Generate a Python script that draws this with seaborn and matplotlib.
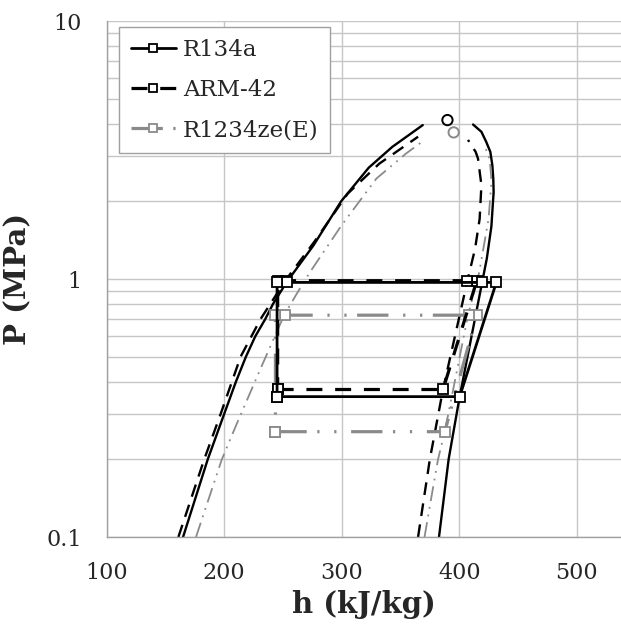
import matplotlib
matplotlib.use("Agg")
import matplotlib.pyplot as plt
import matplotlib.ticker as mticker
import seaborn as sns
import numpy as np

# ---------------- data ----------------
# saturation domes: liquid and vapour branches, h in kJ/kg, P in MPa
r134a_liq_h = [165, 186, 200, 210, 218.5, 226.5, 235, 241.5, 253, 276, 299.5, 323, 343, 369]
r134a_liq_p = [0.1, 0.2, 0.3, 0.4, 0.5, 0.6, 0.7, 0.8, 0.97, 1.35, 2.0, 2.7, 3.25, 3.95]
r134a_vap_h = [382.8, 391, 400.4, 410.5, 419.5, 423.5, 427.4, 429.3, 429, 428.2, 426.5, 423, 418.9, 411.8]
r134a_vap_p = [0.1, 0.2, 0.35, 0.6, 0.97, 1.2, 1.6, 2.17, 2.45, 2.76, 3.11, 3.4, 3.72, 3.97]

arm42_liq_h = [161, 183, 197, 214, 231, 252, 277, 305, 332, 365]
arm42_liq_p = [0.1, 0.2, 0.3, 0.5, 0.7, 0.985, 1.4, 2.14, 2.8, 3.56]
arm42_vap_h = [365, 375, 386.2, 407, 413.5, 417.4, 418.9, 416, 414, 407.5]
arm42_vap_p = [0.1, 0.2, 0.373, 0.985, 1.31, 1.71, 2.31, 2.93, 3.11, 3.46]

r1234_liq_h = [176, 198, 210, 231, 251, 262.6, 272.8, 299.7, 329.5, 355, 369]
r1234_liq_p = [0.1, 0.2, 0.27, 0.45, 0.724, 0.89, 1.06, 1.61, 2.45, 3.07, 3.42]
r1234_vap_h = [370.5, 376, 382, 387.7, 407.5, 417, 425, 427.5, 426, 421]
r1234_vap_p = [0.1, 0.14, 0.2, 0.256, 0.724, 1.06, 1.71, 2.4, 2.9, 3.35]

# critical points (R134a, R1234ze(E))
crit_h = [390, 395.3]
crit_p = [4.13, 3.70]

# refrigeration cycles
r134a_cyc_h = [245, 400.4, 431.6, 419.5, 253.4, 245, 245]
r134a_cyc_p = [0.35, 0.35, 0.97, 0.97, 0.97, 0.97, 0.35]
arm42_cyc_h = [245.5, 386.2, 415, 406.6, 253, 245.5, 245.5]
arm42_cyc_p = [0.373, 0.373, 0.985, 0.985, 0.985, 0.985, 0.373]
r1234_cyc_h = [243.6, 387.7, 415, 408.4, 252, 243.6, 243.6]
r1234_cyc_p = [0.256, 0.256, 0.724, 0.724, 0.724, 0.724, 0.256]

series_names = ["R134a", "ARM-42", "R1234ze(E)"]
x_ticks = [100, 200, 300, 400, 500]
y_ticks = [0.1, 1, 10]
y_tick_labels = ["0.1", "1", "10"]

# ---------------- figure ----------------
sns.set_style("white")
plt.rcParams["font.family"] = ["DejaVu Serif", "DejaVu Sans"]

W, H = 621, 630
fig = plt.figure(figsize=(W / 100, H / 100), dpi=100)
left, right, top, bottom = 106.7, 621, 21, 537
ax = fig.add_axes([left / W, (H - bottom) / H, (right - left) / W, (bottom - top) / H])

BLACK = "#000000"
GRAY = "#8a8a8a"

# dash styles
dome_dash = (0, (5.4, 3.6))
dome_dashdot = (0, (8.3, 3.3, 1.0, 3.3, 1.0, 3.3))
cyc_dash = (0, (5.0, 4.0))
cyc_dashdot = (0, (9.8, 3.3, 0.7, 4.6, 0.7, 4.6))

def line(hs, ps, color, ls, lw, **kw):
    sns.lineplot(x=hs, y=ps, sort=False, estimator=None, color=color,
                 linestyle=ls, linewidth=lw, ax=ax, **kw)

# domes
line(r134a_liq_h, r134a_liq_p, BLACK, "-", 1.7)
line(r134a_vap_h, r134a_vap_p, BLACK, "-", 1.7)
line(arm42_liq_h, arm42_liq_p, BLACK, dome_dash, 1.7)
line(arm42_vap_h, arm42_vap_p, BLACK, dome_dash, 1.7)
line(r1234_liq_h, r1234_liq_p, GRAY, dome_dashdot, 1.3)
line(r1234_vap_h, r1234_vap_p, GRAY, dome_dashdot, 1.3)

# critical points
sns.scatterplot(x=crit_h, y=crit_p, ax=ax, s=55, facecolor="none",
                edgecolor=[BLACK, GRAY], linewidth=1.4, legend=False, zorder=5)

# cycles
mk = dict(marker="s", markersize=6.5, markerfacecolor="white", markeredgewidth=1.3)
line(r1234_cyc_h, r1234_cyc_p, GRAY, cyc_dashdot, 2.3,
     markeredgecolor=GRAY, label=series_names[2], **mk)
line(arm42_cyc_h, arm42_cyc_p, BLACK, cyc_dash, 2.3,
     markeredgecolor=BLACK, label=series_names[1], **mk)
line(r134a_cyc_h, r134a_cyc_p, BLACK, "-", 2.0,
     markeredgecolor=BLACK, label=series_names[0], **mk)

# ---------------- axes ----------------
ax.set_yscale("log")
ax.set_xlim(100, 100 + (right - left) / 1.175)
ax.set_ylim(0.1, 10)

ax.xaxis.set_major_locator(mticker.FixedLocator(x_ticks))
ax.xaxis.set_minor_locator(mticker.MultipleLocator(20))
ax.yaxis.set_major_locator(mticker.FixedLocator(y_ticks))
ax.yaxis.set_major_formatter(mticker.FixedFormatter(y_tick_labels))
ax.yaxis.set_minor_locator(mticker.LogLocator(base=10, subs=np.arange(2, 10)))
ax.yaxis.set_minor_formatter(mticker.NullFormatter())

GRID = "#c6c6c6"
ax.grid(which="major", axis="both", color=GRID, linewidth=1.0)
ax.grid(which="minor", axis="y", color=GRID, linewidth=1.0)
ax.set_axisbelow(True)

for s in ["top", "right"]:
    ax.spines[s].set_visible(False)
for s in ["left", "bottom"]:
    ax.spines[s].set_color("#a0a0a0")
    ax.spines[s].set_linewidth(1.0)

ax.tick_params(axis="both", which="both", direction="out", color="#a0a0a0", width=1.0)
ax.tick_params(axis="x", which="major", length=8, pad=10, labelsize=16)
ax.tick_params(axis="x", which="minor", length=6)
ax.tick_params(axis="y", which="major", length=9, pad=9, labelsize=16)
ax.tick_params(axis="y", which="minor", length=9)

ax.set_xlabel("h (kJ/kg)", fontsize=21, fontweight="bold", labelpad=4)
ax.set_ylabel("P (MPa)", fontsize=21, fontweight="bold", labelpad=10)

handles, labels = ax.get_legend_handles_labels()
order = [labels.index(n) for n in series_names]
leg = ax.legend([handles[i] for i in order], [labels[i] for i in order],
                loc="upper left", bbox_to_anchor=(0.024, 0.988), borderaxespad=0,
                fontsize=16.5, frameon=True, fancybox=False, edgecolor="#a0a0a0",
                framealpha=1, handlelength=2.0, handletextpad=0.3,
                labelspacing=0.8, borderpad=0.5, numpoints=1, markerscale=0.8)
leg.get_frame().set_linewidth(1.0)

fig.savefig("out.png", dpi=100)
